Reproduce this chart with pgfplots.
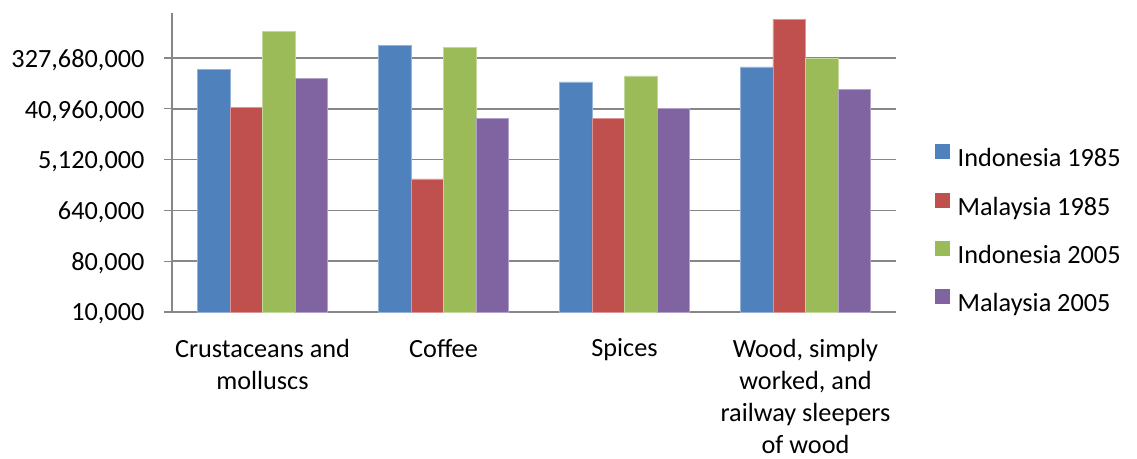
\documentclass[border=0pt]{standalone}
\usepackage{fontspec}
\setmainfont{Carlito}
\usepackage{pgfplots}
\pgfplotsset{compat=1.18}
\definecolor{cA}{HTML}{4F81BD}
\definecolor{cB}{HTML}{C0504D}
\definecolor{cC}{HTML}{9BBB59}
\definecolor{cD}{HTML}{8064A2}
\definecolor{axgray}{HTML}{878787}
\newcommand{\ff}{\fontsize{19.7pt}{24pt}\selectfont}
\begin{document}
\ff
\begin{tikzpicture}[x=1pt,y=1pt]
\useasboundingbox (0,0) rectangle (852.75,343.5);
\begin{axis}[
  at={(129pt,109.5pt)}, anchor=south west,
  width=543pt, height=224.25pt, scale only axis,
  ymode=log, log origin=infty,
  ymin=10000, ymax=2.07e9,
  xmin=-0.5, xmax=3.5,
  ybar=0pt, bar width=0.18,
  axis lines*=left,
  axis line style={draw=axgray, line width=0.8pt},
  ymajorgrids, grid style={draw=axgray, line width=1.1pt},
  ytick={10000,80000,640000,5120000,40960000,327680000},
  yticklabels={{10,000},{80,000},{640,000},{5,120,000},{40,960,000},{327,680,000}},
  xtick={0,1,2,3},
  xticklabels={{Crustaceans and\\molluscs},{Coffee},{Spices},{Wood, simply\\worked, and\\railway sleepers\\of wood}},
  xtick style={draw=none},
  minor xtick={-0.5,0.5,1.5,2.5,3.5},
  tick align=outside,
  major tick length=6pt, minor tick length=6.75pt,
  tick style={draw=axgray, line width=0.8pt},
  ytick style={draw=axgray, line width=0.8pt},
  minor tick style={draw=axgray, line width=0.8pt},
  yticklabel style={font=\ff, inner sep=0pt, xshift=-14.5pt, yshift=-1.5pt, text=black},
  xticklabel style={font=\ff, align=center, anchor=north, inner sep=0pt, yshift=-14pt, text=black},
  legend style={draw=none, fill=none, at={(1.054,0.272)}, anchor=west,
    font=\ff, inner sep=0pt, row sep=15.2pt,
    nodes={inner sep=0pt, text height=14pt, text depth=4pt}},
  legend cell align=left,
  legend image code/.code={\path[#1,draw=none] (0pt,0.75pt) rectangle (11.25pt,12pt); \path (16.5pt,6pt);},
]
\addplot[fill=cA, draw=cA!60!white, line width=0.4pt] coordinates {(0,203e6) (1,558e6) (2,123e6) (3,227e6)};
\addplot[fill=cB, draw=cB!60!white, line width=0.4pt] coordinates {(0,43.6e6) (1,2.32e6) (2,27.8e6) (3,1570e6)};
\addplot[fill=cC, draw=cC!60!white, line width=0.4pt] coordinates {(0,962e6) (1,514e6) (2,157e6) (3,331e6)};
\addplot[fill=cD, draw=cD!60!white, line width=0.4pt] coordinates {(0,144.5e6) (1,28.1e6) (2,41.2e6) (3,91e6)};
\legend{Indonesia 1985,Malaysia 1985,Indonesia 2005,Malaysia 2005}
\end{axis}
\end{tikzpicture}
\end{document}
